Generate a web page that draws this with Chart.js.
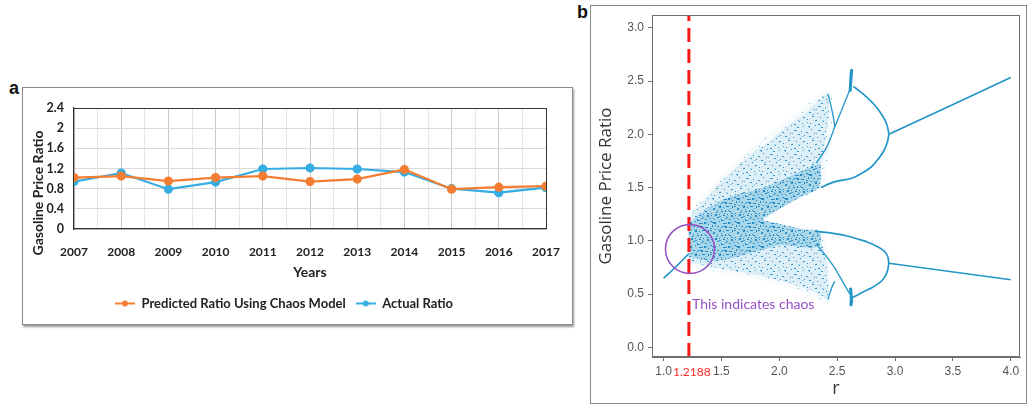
<!DOCTYPE html>
<html>
<head>
<meta charset="utf-8">
<script src="https://cdn.jsdelivr.net/npm/chart.js@4.4.1/dist/chart.umd.min.js"></script>
<style>
  body { margin: 0; background: #fff; width: 1028px; height: 407px; position: relative; overflow: hidden; }
  .box { position: absolute; box-sizing: border-box; }
  #boxA { left: 22px; top: 87px; width: 551px; height: 238px; border: 1px solid #8a8a8a; box-shadow: 1px 2px 2px #9a9a9a; }
  #boxB { left: 590px; top: 5px; width: 437px; height: 399px; border: 1px solid #8a8a8a; }
  canvas { position: absolute; }
  #chartA { left: 22px; top: 87px; }
  #chartB { left: 590px; top: 5px; }
  .tag { position: absolute; font: bold 18px "Liberation Sans", Arial, sans-serif; color: #111; }
</style>
</head>
<body>
<div class="box" id="boxA"></div>
<div class="box" id="boxB"></div>
<div class="tag" style="left:9px; top:78px;">a</div>
<div class="tag" style="left:577px; top:2px;">b</div>
<canvas id="chartA" width="551" height="238"></canvas>
<canvas id="chartB" width="437" height="399"></canvas>
<script>
// ---- panel a : ratios by year
var years = [2007, 2008, 2009, 2010, 2011, 2012, 2013, 2014, 2015, 2016, 2017];
var predicted = [1.02, 1.05, 0.95, 1.02, 1.05, 0.94, 0.99, 1.18, 0.79, 0.83, 0.85];
var actual = [0.94, 1.11, 0.79, 0.93, 1.19, 1.21, 1.19, 1.13, 0.80, 0.72, 0.82];
var yTicksA = [0, 0.4, 0.8, 1.2, 1.6, 2, 2.4];

// ---- panel b : bifurcation of the ratio against r
var rTicks = [1.0, 1.5, 2.0, 2.5, 3.0, 3.5, 4.0];
var ratioTicks = [0.0, 0.5, 1.0, 1.5, 2.0, 2.5, 3.0];
var rChaos = 1.2188;

var stem = [[1.0, 0.65], [1.1, 0.75], [1.2188, 0.88]];
var upperTail = [[2.947, 2.0], [4.0, 2.533]];
var lowerTail = [[2.947, 0.79], [4.0, 0.635]];
var upperOuter = [[2.947, 2.0], [2.935, 2.07], [2.91, 2.14], [2.87, 2.21], [2.82, 2.28], [2.755, 2.35], [2.70, 2.40], [2.64, 2.45]];
var upperInner = [[2.947, 2.0], [2.935, 1.93], [2.91, 1.86], [2.87, 1.79], [2.80, 1.70], [2.72, 1.64], [2.62, 1.585], [2.52, 1.565], [2.44, 1.54], [2.36, 1.50]];
var upperSide = [[2.61, 2.42], [2.54, 2.23], [2.48, 2.07], [2.41, 1.88], [2.32, 1.73]];
var upperLoop = [[2.42, 2.38], [2.44, 2.30], [2.46, 2.20], [2.47, 2.14], [2.48, 2.07]];
var upperSpike = [[2.612, 2.40], [2.618, 2.50], [2.625, 2.60], [2.62, 2.55], [2.615, 2.45]];
var lowerInner = [[2.947, 0.79], [2.935, 0.86], [2.90, 0.91], [2.84, 0.95], [2.76, 0.99], [2.67, 1.02], [2.57, 1.05], [2.467, 1.07], [2.40, 1.08], [2.32, 1.09]];
var lowerOuter = [[2.947, 0.79], [2.935, 0.72], [2.91, 0.66], [2.87, 0.61], [2.80, 0.56], [2.755, 0.537], [2.69, 0.50], [2.625, 0.465]];
var lowerSide = [[2.61, 0.50], [2.525, 0.66], [2.47, 0.76], [2.41, 0.85], [2.32, 0.97]];
var lowerLoop = [[2.42, 0.45], [2.44, 0.52], [2.46, 0.58], [2.48, 0.62]];
var lowerSpike = [[2.615, 0.56], [2.622, 0.48], [2.62, 0.40], [2.628, 0.45]];

var cloudFringe = [
  [1.2188, 1.26], [1.4, 1.50], [1.6, 1.72], [1.8, 1.91], [2.0, 2.08], [2.2, 2.24], [2.38, 2.40], [2.45, 2.40],
  [2.45, 2.0], [2.40, 1.6], [2.36, 1.49], [2.1, 1.35], [1.86, 1.20],
  [2.1, 1.14], [2.36, 1.09], [2.42, 0.85], [2.45, 0.60], [2.43, 0.42],
  [2.2, 0.52], [2.0, 0.59], [1.8, 0.64], [1.6, 0.68], [1.4, 0.72], [1.2188, 0.76]
];
var cloudEdge = [
  [1.2188, 1.22], [1.3, 1.32], [1.4, 1.44], [1.5, 1.56], [1.6, 1.66], [1.7, 1.76], [1.8, 1.85], [1.9, 1.92],
  [2.0, 2.02], [2.1, 2.10], [2.2, 2.18], [2.3, 2.28], [2.38, 2.36], [2.42, 2.38],
  [2.43, 2.2], [2.40, 1.95], [2.36, 1.7], [2.34, 1.52], [2.3, 1.47],
  [2.2, 1.42], [2.1, 1.36], [2.0, 1.30], [1.9, 1.23], [1.86, 1.20],
  [1.95, 1.17], [2.1, 1.13], [2.25, 1.10], [2.35, 1.09],
  [2.36, 1.0], [2.40, 0.85], [2.42, 0.65], [2.42, 0.45],
  [2.35, 0.50], [2.2, 0.56], [2.0, 0.63], [1.8, 0.68], [1.6, 0.72], [1.4, 0.76], [1.3, 0.78], [1.2188, 0.80]
];
var cloudCore = [
  [1.22, 0.85], [1.22, 1.15], [1.35, 1.28], [1.5, 1.38], [1.65, 1.44], [1.8, 1.48], [2.0, 1.56], [2.2, 1.66], [2.35, 1.72],
  [2.35, 1.50], [2.2, 1.42], [2.0, 1.30], [1.86, 1.20],
  [2.0, 1.16], [2.2, 1.11], [2.35, 1.09], [2.35, 0.95], [2.2, 0.94], [2.0, 0.96], [1.8, 0.90], [1.6, 0.84], [1.4, 0.81], [1.22, 0.85]
];
var circleAt = [1.228, 0.924];

var lato = 'Lato, "Liberation Sans", sans-serif';
var orange = '#f47d32';
var blueA = '#36ade2';
var blueB = '#2396c8';

function pairs(list) {
  return list.map(function (p) { return { x: p[0], y: p[1] }; });
}

function legendMark(color) {
  var c = document.createElement('canvas');
  c.width = 20; c.height = 8;
  var g = c.getContext('2d');
  g.strokeStyle = color; g.lineWidth = 2;
  g.beginPath(); g.moveTo(0, 4); g.lineTo(20, 4); g.stroke();
  g.fillStyle = color;
  g.beginPath(); g.arc(10, 4, 3, 0, Math.PI * 2); g.fill();
  return c;
}

function dotPattern(tint, dot, spots) {
  var c = document.createElement('canvas');
  c.width = 24; c.height = 24;
  var g = c.getContext('2d');
  g.fillStyle = tint; g.fillRect(0, 0, 24, 24);
  g.fillStyle = dot;
  spots.forEach(function (s) { g.fillRect(s[0], s[1], s[2] || 1, s[3] || 1); });
  return g.createPattern(c, 'repeat');
}

var marks = [legendMark(orange), legendMark(blueA)];

var yTitleA = {
  id: 'yTitleA',
  afterDraw: function (chart) {
    var ctx = chart.ctx;
    ctx.save();
    ctx.translate(16, 106);
    ctx.rotate(-Math.PI / 2);
    ctx.font = 'bold 14px ' + lato;
    ctx.fillStyle = '#222';
    ctx.textAlign = 'center';
    ctx.textBaseline = 'middle';
    ctx.fillText('Gasoline Price Ratio', 0, 0);
    ctx.restore();
  }
};

function noPad(scale) {
  scale.paddingTop = 0; scale.paddingBottom = 0;
  scale.paddingLeft = 0; scale.paddingRight = 0;
}

const ctxA = document.getElementById('chartA').getContext('2d');
const chartA = new Chart(ctxA, {
  type: 'line',
  data: {
    datasets: [{
      label: 'Predicted Ratio Using Chaos Model',
      data: years.map(function (y, i) { return { x: y, y: predicted[i] }; }),
      borderColor: orange,
      backgroundColor: orange,
      borderWidth: 2.2,
      pointRadius: 3.5,
      pointStyle: 'circle'
    }, {
      label: 'Actual Ratio',
      data: years.map(function (y, i) { return { x: y, y: actual[i] }; }),
      borderColor: blueA,
      backgroundColor: blueA,
      borderWidth: 2.2,
      pointRadius: 3.5,
      pointStyle: 'circle'
    }]
  },
  options: {
    responsive: false,
    animation: false,
    devicePixelRatio: 1,
    layout: { autoPadding: false, padding: { left: 0, top: 21, right: 27, bottom: 5 } },
    plugins: {
      tooltip: { enabled: false },
      legend: {
        position: 'bottom',
        labels: {
          usePointStyle: true,
          pointStyleWidth: 20,
          padding: 10,
          color: '#222',
          font: { family: lato, size: 13, weight: 'bold' },
          generateLabels: function (chart) {
            var items = Chart.defaults.plugins.legend.labels.generateLabels(chart);
            items.forEach(function (it, i) { it.pointStyle = marks[i]; });
            return items;
          }
        }
      }
    },
    scales: {
      x: {
        type: 'linear',
        min: years[0],
        max: years[years.length - 1],
        afterFit: function (scale) { scale.height = 58; noPad(scale); },
        border: { color: '#333', width: 1.2 },
        grid: {
          drawTicks: false,
          color: function (c) {
            var v = c.tick.value;
            if (v === years[years.length - 1]) return '#333';
            return v % 1 === 0 ? '#c9c9c9' : '#e6e6e6';
          }
        },
        ticks: {
          stepSize: 0.5,
          autoSkip: false,
          maxRotation: 0,
          maxTicksLimit: 100,
          padding: 16,
          color: '#222',
          font: { family: lato, size: 12, weight: 'bold' },
          callback: function (v) { return years.indexOf(v) >= 0 ? String(v) : ''; }
        },
        title: {
          display: true,
          text: 'Years',
          color: '#222',
          padding: { top: 0, bottom: 6 },
          font: { family: lato, size: 14, weight: 'bold' }
        }
      },
      y: {
        min: 0,
        max: 2.4,
        afterFit: function (scale) { scale.width = 52; noPad(scale); },
        border: { color: '#333', width: 1.2 },
        grid: {
          drawTicks: false,
          color: function (c) {
            return Math.abs(c.tick.value - 2.4) < 1e-6 ? '#333' : '#dadada';
          }
        },
        ticks: {
          stepSize: 0.2,
          padding: 10,
          color: '#222',
          font: { family: lato, size: 12.5, weight: 'bold' },
          callback: function (v) {
            var r = Math.round(v * 10) / 10;
            return yTicksA.indexOf(r) >= 0 ? String(r) : '';
          }
        }
      }
    }
  },
  plugins: [yTitleA]
});

// ---- panel b
var fringeDots = dotPattern('rgba(40,150,200,0.04)', 'rgba(40,150,205,0.7)', [
  [3, 2], [14, 5], [20, 11], [7, 13], [16, 19], [1, 21], [10, 8]
]);
var sparseDots = dotPattern('rgba(40,150,200,0.13)', 'rgba(25,135,195,0.85)', [
  [2, 1, 2], [9, 0], [15, 2, 2], [21, 1], [5, 4], [12, 5, 2], [19, 6], [0, 7, 2], [8, 8], [16, 9, 2],
  [22, 10], [3, 11, 2], [11, 12], [18, 13], [6, 15, 2], [14, 16], [21, 16, 2], [1, 18], [9, 19, 2],
  [17, 20], [4, 22], [12, 23, 2], [20, 22]
]);
var denseDots = dotPattern('rgba(40,150,200,0.28)', 'rgba(20,130,190,0.9)', [
  [0, 0, 2, 1], [4, 1, 2, 2], [9, 0], [13, 2, 2, 1], [18, 1, 2, 2], [22, 3], [2, 4, 1, 2], [7, 5, 2, 1],
  [11, 6], [15, 5, 2, 2], [20, 6, 2, 1], [0, 9, 2, 1], [5, 8], [9, 9, 2, 2], [13, 10], [17, 9, 2, 1],
  [22, 9, 1, 2], [3, 12, 2, 1], [7, 13], [11, 14, 2, 1], [15, 13, 1, 2], [19, 14, 2, 1], [1, 16],
  [5, 17, 2, 2], [9, 17], [13, 18, 2, 1], [17, 17], [21, 18, 2, 2], [3, 21], [7, 20, 2, 1],
  [11, 22, 1, 2], [15, 21, 2, 1], [19, 22], [23, 21]
]);

function branch(list, width) {
  return {
    data: pairs(list),
    borderColor: blueB,
    borderWidth: width || 1.7,
    pointRadius: 0,
    tension: 0.3,
    fill: false
  };
}

function cloud(list, pattern, order) {
  return {
    data: pairs(list),
    borderColor: 'rgba(0,0,0,0)',
    borderWidth: 0,
    backgroundColor: pattern,
    pointRadius: 0,
    tension: 0.2,
    fill: 'shape',
    order: order
  };
}

var annotateB = {
  id: 'annotateB',
  afterDraw: function (chart) {
    var ctx = chart.ctx, a = chart.chartArea;
    var xs = chart.scales.x, ys = chart.scales.y;
    ctx.save();
    ctx.strokeStyle = '#6f6f6f';
    ctx.lineWidth = 1;
    ctx.strokeRect(a.left + 0.5, a.top + 0.5, a.right - a.left - 1, a.bottom - a.top - 1);
    ctx.fillStyle = '#ff2a2a';
    ctx.font = '12px ' + lato;
    ctx.textAlign = 'center';
    ctx.textBaseline = 'middle';
    ctx.fillText(String(rChaos), xs.getPixelForValue(rChaos) + 3, a.bottom + 15);
    ctx.fillStyle = '#9450c4';
    ctx.font = '14px ' + lato;
    ctx.textAlign = 'left';
    ctx.fillText('This indicates chaos', xs.getPixelForValue(1.246), ys.getPixelForValue(0.405));
    ctx.restore();
  }
};

const ctxB = document.getElementById('chartB').getContext('2d');
const chartB = new Chart(ctxB, {
  type: 'line',
  data: {
    datasets: [
      cloud(cloudFringe, fringeDots, 10),
      cloud(cloudEdge, sparseDots, 9),
      cloud(cloudCore, denseDots, 8),
      branch(stem), branch(upperTail), branch(lowerTail),
      branch(upperOuter), branch(upperInner), branch(upperSide, 1.3), branch(upperLoop, 1.3),
      branch(upperSpike, 3), branch(lowerInner), branch(lowerOuter), branch(lowerSide, 1.3),
      branch(lowerLoop, 1.3), branch(lowerSpike, 3),
      {
        data: [{ x: rChaos, y: -0.09 }, { x: rChaos, y: 3.12 }],
        borderColor: '#ff1414',
        borderWidth: 3,
        borderDash: [14, 7],
        pointRadius: 0,
        fill: false,
        order: -1
      },
      {
        data: [{ x: circleAt[0], y: circleAt[1] }],
        showLine: false,
        pointRadius: 24.5,
        pointHoverRadius: 24.5,
        pointBorderWidth: 1.5,
        pointBorderColor: '#9450c4',
        pointBackgroundColor: 'rgba(0,0,0,0)',
        order: -2
      }
    ]
  },
  options: {
    responsive: false,
    animation: false,
    devicePixelRatio: 1,
    layout: { autoPadding: false, padding: { left: 0, top: 10, right: 7, bottom: 3 } },
    plugins: { legend: { display: false }, tooltip: { enabled: false } },
    scales: {
      x: {
        type: 'linear',
        min: 0.9,
        max: 4.08,
        afterFit: function (scale) { scale.height = 44; noPad(scale); },
        afterBuildTicks: function (scale) { scale.ticks = rTicks.map(function (v) { return { value: v }; }); },
        border: { color: '#6f6f6f' },
        grid: { drawOnChartArea: false, tickLength: 4, color: '#6f6f6f' },
        ticks: {
          padding: 3,
          color: '#555',
          font: { family: '"Liberation Sans", Arial, sans-serif', size: 12 },
          callback: function (v) { return v.toFixed(1); }
        },
        title: {
          display: true,
          text: 'r',
          color: '#333',
          padding: { top: 0, bottom: 1 },
          font: { family: '"Open Sans", sans-serif', size: 18 }
        }
      },
      y: {
        min: -0.09,
        max: 3.12,
        afterFit: function (scale) { scale.width = 62; noPad(scale); },
        afterBuildTicks: function (scale) { scale.ticks = ratioTicks.map(function (v) { return { value: v }; }); },
        border: { color: '#6f6f6f' },
        grid: { drawOnChartArea: false, tickLength: 4, color: '#6f6f6f' },
        ticks: {
          padding: 4,
          color: '#555',
          font: { family: '"Liberation Sans", Arial, sans-serif', size: 12 },
          callback: function (v) { return v.toFixed(1); }
        },
        title: {
          display: true,
          text: 'Gasoline Price Ratio',
          color: '#333',
          padding: { top: 6, bottom: 0 },
          font: { family: '"Open Sans", sans-serif', size: 17 }
        }
      }
    }
  },
  plugins: [annotateB]
});
</script>
</body>
</html>
